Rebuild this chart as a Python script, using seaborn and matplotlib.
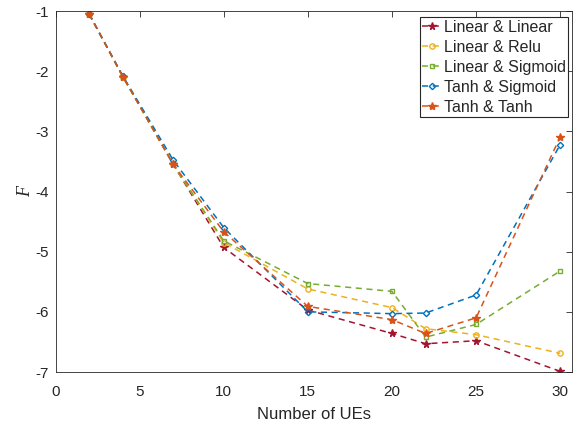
import matplotlib
matplotlib.use("Agg")
import matplotlib.pyplot as plt
import seaborn as sns
import pandas as pd

num_ues = [2, 4, 7, 10, 15, 20, 22, 25, 30]
linear_linear = [-1.05, -2.09, -3.55, -4.93, -5.97, -6.36, -6.53, -6.48, -6.99]
linear_relu = [-1.05, -2.09, -3.55, -4.85, -5.62, -5.93, -6.28, -6.38, -6.69]
linear_sigmoid = [-1.05, -2.09, -3.55, -4.82, -5.53, -5.66, -6.42, -6.21, -5.32]
tanh_sigmoid = [-1.05, -2.08, -3.48, -4.60, -6.00, -6.03, -6.02, -5.72, -3.22]
tanh_tanh = [-1.05, -2.09, -3.55, -4.67, -5.91, -6.13, -6.36, -6.10, -3.09]

series_names = ["Linear & Linear", "Linear & Relu", "Linear & Sigmoid",
                "Tanh & Sigmoid", "Tanh & Tanh"]
series_values = [linear_linear, linear_relu, linear_sigmoid, tanh_sigmoid, tanh_tanh]

colors = ["#A2142F", "#EDB120", "#77AC30", "#0072BD", "#D95319"]
markers = ["*", "o", "s", "D", "*"]
msizes = [5.5, 3.8, 3.2, 3.2, 6]
filled = [True, False, False, False, True]

sns.set_style("white")
plt.rcParams["font.family"] = ["Liberation Sans", "DejaVu Sans"]

fig = plt.figure(figsize=(5.74, 4.24), dpi=100)
ax = fig.add_axes([55.5 / 574, 1 - 372 / 424, (572 - 55.5) / 574, (372 - 11) / 424])

for name, vals, c, m, ms, f in zip(series_names, series_values, colors, markers, msizes, filled):
    df = pd.DataFrame({"x": num_ues, "y": vals})
    sns.lineplot(data=df, x="x", y="y", ax=ax, color=c, marker=m, markersize=ms,
                 linestyle=(0, (4, 3)), linewidth=1.1, label=name, sort=False,
                 markerfacecolor=c if f else "none", markeredgecolor=c,
                 markeredgewidth=1.0)

ax.set_xlim(0, 30.7)
ax.set_ylim(-7, -1)
ax.set_xticks([0, 5, 10, 15, 20, 25, 30])
ax.set_yticks([-7, -6, -5, -4, -3, -2, -1])
ax.set_xticklabels(["0", "5", "10", "15", "20", "25", "30"])
ax.set_yticklabels(["-7", "-6", "-5", "-4", "-3", "-2", "-1"])
ax.tick_params(direction="in", length=4, width=0.6, top=True, right=True,
               labelsize=11, colors="#262626")
ax.tick_params(axis="x", pad=9)
ax.tick_params(axis="y", pad=5)
for s in ax.spines.values():
    s.set_visible(True)
    s.set_color("#262626")
    s.set_linewidth(0.6)

ax.set_xlabel("Number of UEs", fontsize=12, color="#262626", labelpad=6)
ax.set_ylabel("F", fontsize=13, family="Liberation Serif", style="italic",
              color="#262626", labelpad=1)

leg = ax.legend(loc="upper right", bbox_to_anchor=(0.993, 0.983), fontsize=11.5,
                frameon=True, fancybox=False, edgecolor="#262626", framealpha=1,
                handlelength=1.2, handletextpad=0.15, borderpad=0.15,
                labelspacing=0.32, borderaxespad=0.0)
leg.get_frame().set_linewidth(0.8)

fig.savefig("out.png", dpi=100)
